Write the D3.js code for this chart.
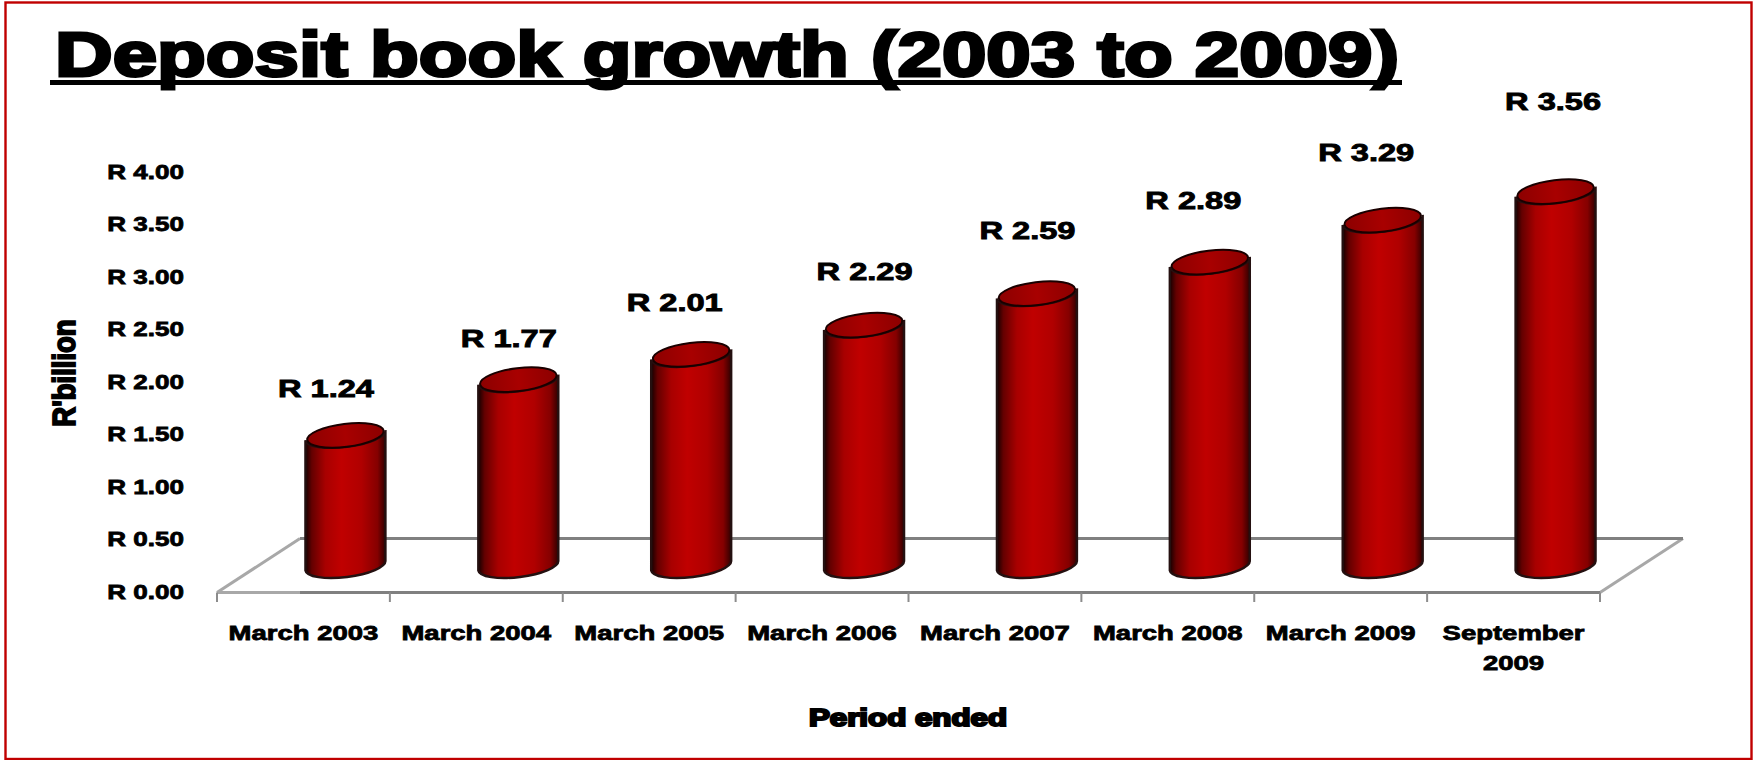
<!DOCTYPE html>
<html>
<head>
<meta charset="utf-8">
<title>Deposit book growth (2003 to 2009)</title>
<script src="https://cdnjs.cloudflare.com/ajax/libs/d3/7.8.5/d3.min.js"></script>
<style>
  html, body { margin: 0; padding: 0; background: #fff; }
  svg { display: block; }
  text { font-family: "Liberation Sans", Arial, sans-serif; font-weight: 700; fill: #000; }
</style>
</head>
<body>
<svg id="chart" width="1753" height="760"></svg>
<script>
// Chart content
const chartTitle = "Deposit book growth (2003 to 2009)";
const categories = ["March 2003", "March 2004", "March 2005", "March 2006",
                    "March 2007", "March 2008", "March 2009", "September 2009"];
const deposits = [1.24, 1.77, 2.01, 2.29, 2.59, 2.89, 3.29, 3.56];
const valueTicks = [0, 0.5, 1, 1.5, 2, 2.5, 3, 3.5, 4];
const yAxisTitle = "R'billion";
const xAxisTitle = "Period ended";

// Value labels sit by hand above each column, not at a fixed offset
const labelShiftX = [-20, -10, -17, 0, -10, -17, -17, -3];
const labelLift = [38, 33, 43, 45, 55, 53, 59, 82];

const width = 1753, height = 760;
const floorFront = 592.5, floorDepthX = 83, floorDepthY = 54;
const stretch = 1.34; // text runs wider than its natural Arial proportions

const svg = d3.select("#chart");
const defs = svg.append("defs");

const x = d3.scaleBand().domain(categories).range([217, 1600]);
const y = d3.scaleLinear().domain([0, 4]).range([floorFront, floorFront - 420]);
const unitHeight = v => y(0) - y(v);

// Widen a text selection horizontally by a factor, keeping its anchor
function widen(sel, factor) {
  sel.each(function () {
    const n = this.getComputedTextLength();
    d3.select(this).attr("textLength", n * factor).attr("lengthAdjust", "spacingAndGlyphs");
  });
  return sel;
}

const sideGradient = defs.append("linearGradient").attr("id", "cylSide");
[[0, "#140000"], [0.08, "#640000"], [0.25, "#a80000"], [0.45, "#c00000"],
 [0.7, "#b00000"], [0.9, "#850000"], [1, "#300000"]].forEach(([o, c]) =>
  sideGradient.append("stop").attr("offset", o).attr("stop-color", c));

const topGradient = defs.append("linearGradient").attr("id", "cylTop");
[[0, "#8c0000"], [0.5, "#a80000"], [1, "#8c0000"]].forEach(([o, c]) =>
  topGradient.append("stop").attr("offset", o).attr("stop-color", c));

// Slide border
svg.append("rect").attr("x", 5.5).attr("y", 2.5).attr("width", 1746).attr("height", 756.5)
  .attr("fill", "none").attr("stroke", "#c00000").attr("stroke-width", 2.4);

// Title with its underline
svg.append("text").attr("x", 55).attr("y", 76)
  .style("font-size", "63px").style("stroke", "#000").style("stroke-width", "3px")
  .text(chartTitle)
  .call(s => s.attr("textLength", 1344).attr("lengthAdjust", "spacingAndGlyphs"));
svg.append("rect").attr("x", 50).attr("y", 80).attr("width", 1352).attr("height", 5).attr("fill", "#000");

// Floor of the 3-D plot
const floorLeft = x.range()[0], floorRight = x.range()[1];
const floor = svg.append("g").attr("class", "floor").attr("fill", "none");
floor.append("path")
  .attr("d", d3.line()([[floorLeft, floorFront], [floorLeft + floorDepthX, floorFront - floorDepthY]]))
  .attr("stroke", "#a8a8a8").attr("stroke-width", 3);
floor.append("path")
  .attr("d", d3.line()([[floorRight, floorFront], [floorRight + floorDepthX, floorFront - floorDepthY]]))
  .attr("stroke", "#a8a8a8").attr("stroke-width", 3);
floor.append("path")
  .attr("d", d3.line()([[floorLeft + floorDepthX, floorFront - floorDepthY],
                        [floorRight + floorDepthX, floorFront - floorDepthY]]))
  .attr("stroke", "#808080").attr("stroke-width", 3);
floor.append("path")
  .attr("d", d3.line()([[floorLeft, floorFront], [floorLeft + floorDepthX, floorFront]]))
  .attr("stroke", "#a8a8a8").attr("stroke-width", 3);
floor.append("path")
  .attr("d", d3.line()([[floorLeft + floorDepthX, floorFront], [floorRight, floorFront]]))
  .attr("stroke", "#808080").attr("stroke-width", 3);

// Ticks on the band boundaries
floor.selectAll("line.boundary")
  .data([...categories.map(c => x(c)), floorRight])
  .join("line").attr("class", "boundary")
  .attr("x1", d => d).attr("x2", d => d)
  .attr("y1", floorFront).attr("y2", floorFront + 9.5)
  .attr("stroke", "#8c8c8c").attr("stroke-width", 2);

// Value axis
const yAxis = svg.append("g").attr("transform", "translate(184,-1.5)")
  .call(d3.axisLeft(y).tickValues(valueTicks).tickSize(0).tickPadding(0)
    .tickFormat(d => "R " + d3.format(".2f")(d)));
yAxis.select(".domain").remove();
yAxis.selectAll("text").style("font-size", "20.5px").attr("dy", "0.36em")
  .style("font-family", '"Liberation Sans", Arial, sans-serif')
  .style("stroke", "#000").style("stroke-width", "0.8px")
  .call(s => widen(s, 1.27));

// Category axis, breaking the long label onto two lines
const xAxis = svg.append("g").attr("transform", `translate(0,${floorFront})`)
  .call(d3.axisBottom(x).tickSize(0).tickPadding(0));
xAxis.select(".domain").remove();
xAxis.selectAll("text").each(function (d) {
  const t = d3.select(this).text(null).attr("y", 47.5).attr("dy", 0)
    .style("font-family", '"Liberation Sans", Arial, sans-serif')
    .style("font-size", "20.5px").style("stroke", "#000").style("stroke-width", "0.8px");
  const parts = d.length > 10 ? d.split(" ") : [d];
  parts.forEach((p, i) => {
    const span = t.append("tspan").attr("x", 0).attr("y", 47.5 + i * 30).text(p);
    const n = span.node().getComputedTextLength();
    span.attr("textLength", n * stretch).attr("lengthAdjust", "spacingAndGlyphs");
  });
});

// Cylindrical columns: tilted ellipse caps joined by shaded sides
const barWidth = 80, rx = barWidth / 2, ry = 11.5, tilt = -7, skew = 5;
const baseY = floorFront - floorDepthY / 2;
const centre = c => x(c) + x.bandwidth() / 2 + floorDepthX / 2;

const bars = svg.append("g").selectAll("g.column")
  .data(categories.map((c, i) => ({ c, v: deposits[i] })))
  .join("g").attr("class", "column")
  .attr("transform", d => `translate(${centre(d.c) + 0.5},0)`);

bars.append("path")
  .attr("d", d => {
    const top = baseY - unitHeight(d.v);
    return `M${-rx},${top + skew} L${-rx},${baseY + skew}` +
           ` A${rx},${ry} ${tilt} 0 0 ${rx},${baseY - skew}` +
           ` L${rx},${top - skew}` +
           ` A${rx},${ry} ${tilt} 0 1 ${-rx},${top + skew} Z`;
  })
  .attr("fill", "url(#cylSide)").attr("stroke", "#241010").attr("stroke-width", 2.4);

bars.append("ellipse")
  .attr("rx", rx - 1.5).attr("ry", ry)
  .attr("transform", d => `translate(0,${baseY - unitHeight(d.v)}) rotate(${tilt})`)
  .attr("fill", "url(#cylTop)").attr("stroke", "#1a0000").attr("stroke-width", 2);

// Value labels
svg.append("g").selectAll("text.value")
  .data(deposits)
  .join("text").attr("class", "value")
  .attr("x", (d, i) => centre(categories[i]) + labelShiftX[i] + 1)
  .attr("y", (d, i) => baseY - unitHeight(d) - labelLift[i])
  .attr("text-anchor", "middle")
  .style("font-size", "24.5px").style("stroke", "#000").style("stroke-width", "0.9px")
  .text(d => "R " + d3.format(".2f")(d))
  .call(s => widen(s, 1.33));

// Axis titles
svg.append("text").attr("x", 908).attr("y", 726).attr("text-anchor", "middle")
  .style("font-size", "23px").style("stroke", "#000").style("stroke-width", "2px")
  .text(xAxisTitle).call(s => widen(s, 1.36));
svg.append("text")
  .attr("transform", "translate(75,373) rotate(-90) scale(1,1.15)")
  .attr("text-anchor", "middle")
  .style("font-size", "27.5px").style("stroke", "#000").style("stroke-width", "1.6px")
  .text(yAxisTitle);
</script>
</body>
</html>
